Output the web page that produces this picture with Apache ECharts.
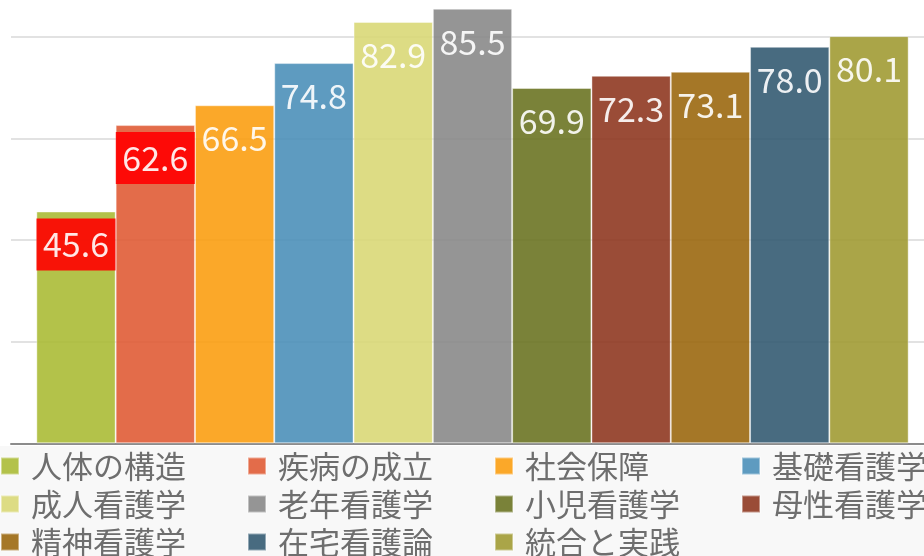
<!DOCTYPE html>
<html>
<head>
<meta charset="utf-8">
<script src="https://cdn.jsdelivr.net/npm/echarts@6/dist/echarts.min.js"></script>
<style>
  html, body { margin: 0; padding: 0; background: #fff; }
  #chart { width: 924px; height: 556px; }
</style>
</head>
<body>
<div id="chart"></div>
<script>
// data
const subjects = ['人体の構造', '疾病の成立', '社会保障', '基礎看護学', '成人看護学', '老年看護学',
  '小児看護学', '母性看護学', '精神看護学', '在宅看護論', '統合と実践']
const scores = [45.6, 62.6, 66.5, 74.8, 82.9, 85.5, 69.9, 72.3, 73.1, 78.0, 80.1]
const barColors = ['#abbb36', '#e05c36', '#fb9f12', '#4d90b9', '#d9d877', '#898989',
  '#6b7423', '#8f3821', '#9b6810', '#345b72', '#a19b34']
const flagged = ['人体の構造', '疾病の成立']
const yMin = 0
const yMax = 100
const yStep = 20

let chart = echarts.init(document.getElementById('chart'))

let series = subjects.map((name, i) => {
  let lbl = {
    show: true,
    position: 'insideTop',
    distance: 7,
    color: '#fff',
    fontFamily: '"Noto Sans CJK JP", "Noto Sans", sans-serif',
    fontSize: 34,
    width: 79,
    lineHeight: 52,
    align: 'center',
    formatter: p => p.value.toFixed(1)
  }
  if (flagged.indexOf(name) >= 0) lbl.backgroundColor = '#ff0000'
  return {
    type: 'bar',
    name: name,
    data: [scores[i]],
    barWidth: 79.3,
    barGap: '0%',
    itemStyle: {
      color: barColors[i],
      opacity: 0.9,
      borderColor: 'rgba(255,255,255,0.45)',
      borderWidth: 1
    },
    label: lbl
  }
})

let option = {
  animation: false,
  backgroundColor: '#fff',
  grid: { left: 11, right: -10, top: -65, bottom: 112.7, outerBoundsMode: 'none' },
  xAxis: {
    type: 'category',
    data: ['得点'],
    axisLabel: { show: false },
    axisTick: { show: false },
    axisLine: { show: true, lineStyle: { color: '#8c8c8c', width: 2 } }
  },
  yAxis: {
    type: 'value',
    min: yMin,
    max: yMax,
    interval: yStep,
    axisLabel: { show: false },
    axisLine: { show: false },
    axisTick: { show: false },
    splitLine: { lineStyle: { color: '#d9d9d9', width: 1.5 } }
  },
  legend: {
    left: 0,
    top: 446,
    width: 1000,
    padding: [1, 0, 12, 0],
    backgroundColor: '#f8f8f8',
    itemGap: 0,
    itemWidth: 18,
    itemHeight: 17,
    icon: 'rect',
    textStyle: {
      fontFamily: '"Noto Sans CJK JP", sans-serif',
      fontSize: 31,
      color: '#6e6e6e',
      width: 216,
      lineHeight: 38,
      padding: [0, 0, 0, 7]
    },
    data: subjects
  },
  series: series
}

chart.setOption(option)
</script>
</body>
</html>
